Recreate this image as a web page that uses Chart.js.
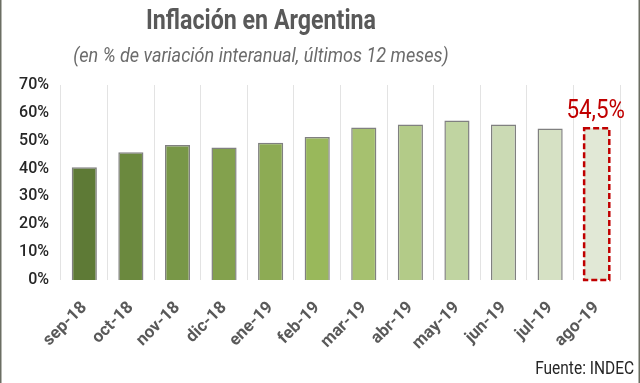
<!DOCTYPE html>
<html>
<head>
<meta charset="utf-8">
<script src="https://cdn.jsdelivr.net/npm/chart.js@4/dist/chart.umd.min.js"></script>
<style>
html,body{margin:0;padding:0;background:#fff;}
#wrap{width:640px;height:383px;position:relative;}
</style>
</head>
<body>
<div id="wrap"><canvas id="c" width="640" height="383"></canvas></div>
<script>
const categories = ["sep-18","oct-18","nov-18","dic-18","ene-19","feb-19","mar-19","abr-19","may-19","jun-19","jul-19","ago-19"];
const inflation = [40.5, 45.9, 48.5, 47.6, 49.3, 51.3, 54.7, 55.8, 57.3, 55.8, 54.4, 54.5];
const barColors = ["#5e7a36","#6b893e","#789747","#83a14d","#8dab54","#99b85b","#a6c16f","#b3cb88","#c0d4a1","#cbdab4","#d6e1c4","#e1e8d6"];
const highlightLabel = "54,5%";
const titleText = "Inflación en Argentina";
const subtitleText = "(en % de variación interanual, últimos 12 meses)";
const sourceText = "Fuente: INDEC";

const FONT = "Roboto, 'Liberation Sans', sans-serif";
const CONDENSE = 0.86;

function condensedText(ctx, text, x, y, align) {
  ctx.save();
  ctx.translate(x, y);
  ctx.scale(CONDENSE, 1);
  ctx.textAlign = align;
  ctx.fillText(text, 0, 0);
  ctx.restore();
}

const decor = {
  id: 'decor',
  afterDatasetsDraw(chart) {
    const ctx = chart.ctx;
    const meta = chart.getDatasetMeta(0);
    const last = meta.data[meta.data.length - 1];
    const w = last.width;
    ctx.save();
    ctx.strokeStyle = '#c00000';
    ctx.lineWidth = 2.5;
    ctx.setLineDash([6, 3]);
    ctx.strokeRect(last.x - w / 2, last.y, w, last.base - last.y);
    ctx.setLineDash([]);
    ctx.fillStyle = '#c00000';
    ctx.font = "26px " + FONT;
    ctx.textBaseline = 'middle';
    condensedText(ctx, highlightLabel, last.x - 1, last.y - 17, 'center');
    ctx.restore();
  },
  afterDraw(chart) {
    const ctx = chart.ctx;
    ctx.save();
    ctx.textBaseline = 'middle';
    ctx.fillStyle = '#595959';
    ctx.font = "bold 27px " + FONT;
    condensedText(ctx, titleText, 261, 22, 'center');
    ctx.font = "italic 21px " + FONT;
    ctx.fillStyle = '#6b6b6b';
    condensedText(ctx, subtitleText, 261, 57, 'center');
    ctx.fillStyle = '#262626';
    ctx.font = "18px " + FONT;
    condensedText(ctx, sourceText, 634, 369, 'right');
    ctx.fillStyle = '#6b6e63';
    ctx.fillRect(0, 0, 1.5, 383);
    ctx.fillRect(638.5, 0, 1.5, 383);
    ctx.restore();
  }
};

new Chart(document.getElementById('c'), {
  type: 'bar',
  data: {
    labels: categories,
    datasets: [{
      data: inflation,
      backgroundColor: barColors,
      borderColor: inflation.map((v, i) => i === inflation.length - 1 ? 'rgba(0,0,0,0)' : '#808080'),
      borderWidth: inflation.map((v, i) => i === inflation.length - 1 ? 0 : 1.5),
      categoryPercentage: 1,
      barPercentage: 0.54
    }]
  },
  options: {
    responsive: false,
    animation: false,
    devicePixelRatio: 1,
    layout: { padding: { top: 85, right: 20, left: 0, bottom: 32 } },
    plugins: { legend: { display: false }, tooltip: { enabled: false }, title: { display: false } },
    scales: {
      x: {
        offset: true,
        grid: { display: true, offset: true, color: '#e3e3e3', drawTicks: false },
        border: { display: false },
        ticks: {
          color: '#595959',
          font: { family: FONT, size: 17, weight: 'bold' },
          maxRotation: 45, minRotation: 45,
          padding: 18
        },
        afterFit(s) { s.height = 383 - 280 - 32; }
      },
      y: {
        min: 0, max: 70,
        grid: { display: false, drawTicks: false },
        border: { display: false },
        ticks: {
          stepSize: 10,
          color: '#262626',
          font: { family: FONT, size: 16, weight: '500' },
          padding: 12,
          callback: v => v + '%'
        },
        afterFit(s) { s.width = 61; }
      }
    }
  },
  plugins: [decor]
});
</script>
</body>
</html>
